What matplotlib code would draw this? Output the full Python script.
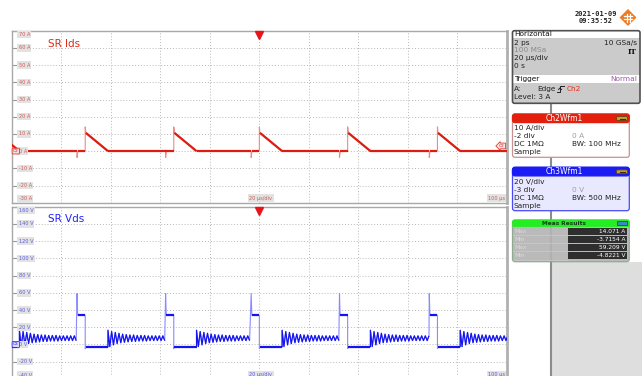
import matplotlib
matplotlib.use('Agg')
import matplotlib.pyplot as plt
import matplotlib.transforms as mtransforms
from matplotlib.patches import FancyBboxPatch, Rectangle, Polygon

# ---------------- data ----------------
time_window_us = [-100, 100]
time_grid_us = [-100, -80, -60, -40, -20, 0, 20, 40, 60, 80, 100]
trigger_time_us = 0.0
trigger_level_A = 3.0

ids_range_A = [-30, 70]
ids_ticks_A = [70, 60, 50, 40, 30, 20, 10, 0, -10, -20, -30]
ids_tick_labels = ['70 A', '60 A', '50 A', '40 A', '30 A', '20 A', '10 A', '0 A', '-10 A', '-20 A', '-30 A']
vds_range_V = [-40, 160]
vds_ticks_V = [160, 140, 120, 100, 80, 60, 40, 20, 0, -20, -40]
vds_tick_labels = ['160 V', '140 V', '120 V', '100 V', '80 V', '60 V', '40 V', '20 V', '0 V', '-20 V', '-40 V']

rise_times_us = [-106.2, -70.4, -34.6, 0.0, 35.7, 72.0]
ids_step_A = 10.6
ids_overshoot_A = 14.07
ids_neg_spike_A = -3.72
ids_ramp_us = 9.2
vds_spike_lead_us = 3.3
vds_spike_V = 59.2
vds_plateau_V = 34.0
vds_undershoot_V = -4.8
vds_on_V = -3.0
vds_ring_half_period_us = 0.74
vds_ring_V = [16.5, -2.5, 15.0, -0.5, 14.0, 1.0, 13.0, 2.0, 12.0, 2.5, 11.5, 3.0,
              11.0, 3.5, 11.0, 3.5, 10.5, 4.0, 10.5, 4.0, 10.5, 4.0, 10.0, 4.5,
              10.0, 4.5, 10.0, 4.5, 10.0, 4.5, 10.0, 4.5, 10.0, 4.5, 10.0, 4.5]

meas_labels = ['Max', 'Min', 'Max', 'Min']
meas_values = ['14.071 A', '-3.7154 A', '59.209 V', '-4.8221 V']

# ---------------- waveform assembly ----------------
def build_ids():
    tl, vl, dark = [], [], []
    prev_end = time_window_us[0] - 40
    for r in rise_times_us:
        s = r - vds_spike_lead_us
        dark.append(([prev_end, s], [0, 0]))
        dark.append(([s + 0.3, r], [0, 0]))
        dark.append(([r + 0.25, r + ids_ramp_us], [ids_step_A, 0]))
        tl += [prev_end, s, s, s + 0.3, r, r, r + 0.25, r + ids_ramp_us]
        vl += [0, 0, ids_neg_spike_A, 0, 0, ids_overshoot_A, ids_step_A, 0]
        prev_end = r + ids_ramp_us
    end = time_window_us[1] + 40
    dark.append(([prev_end, end], [0, 0]))
    tl += [prev_end, end]
    vl += [0, 0]
    return tl, vl, dark


def ring(start, stop):
    ts, vs = [start], [vds_on_V]
    for k, v in enumerate(vds_ring_V):
        t = start + k * vds_ring_half_period_us
        if t >= stop:
            break
        ts.append(t)
        vs.append(v)
    return ts, vs


def build_vds():
    tl, vl, dark = [], [], []
    prev_end = None
    for r in rise_times_us:
        s = r - vds_spike_lead_us
        if prev_end is not None:
            rt, rv = ring(prev_end, s)
            dark.append((rt, rv))
            tl += rt
            vl += rv
        tl += [s, s + 0.25, r, r, r + 0.25, r + ids_ramp_us]
        vl += [vds_spike_V, vds_plateau_V, vds_plateau_V, vds_undershoot_V, vds_on_V, vds_on_V]
        dark.append(([s + 0.25, r], [vds_plateau_V, vds_plateau_V]))
        dark.append(([r + 0.25, r + ids_ramp_us], [vds_on_V, vds_on_V]))
        prev_end = r + ids_ramp_us
    rt, rv = ring(prev_end, time_window_us[1] + 40)
    dark.append((rt, rv))
    tl += rt
    vl += rv
    return tl, vl, dark


# ---------------- figure ----------------
W, H = 642, 376
fig = plt.figure(figsize=(W / 100, H / 100), dpi=100)
fig.patch.set_facecolor('white')


def px_axes(x0, y0, x1, y1):
    return fig.add_axes([x0 / W, 1 - y1 / H, (x1 - x0) / W, (y1 - y0) / H])


ax1 = px_axes(12, 30.7, 506.7, 202.7)
ax2 = px_axes(12, 206.7, 506.7, 378.9)

grid_col = '#b8b8b8'
for ax, rng, ticks in [(ax1, ids_range_A, ids_ticks_A), (ax2, vds_range_V, vds_ticks_V)]:
    ax.set_xlim(*time_window_us)
    ax.set_ylim(*rng)
    ax.set_xticks(time_grid_us)
    ax.set_yticks(ticks)
    ax.grid(True, linestyle=(0, (1, 2)), color=grid_col, linewidth=0.7)
    ax.tick_params(axis='x', length=0, labelbottom=False)
    ax.tick_params(axis='y', direction='in', length=4, color='#999999', width=0.8, labelleft=False)
    for sp in ax.spines.values():
        sp.set_color('#a8a8a8')
        sp.set_linewidth(1.0)
    ax.spines['right'].set_linewidth(2.0)
    ax.spines['right'].set_color('#b0b0b0')

red = '#dc1c10'
red_light = '#f08a84'
blue = '#1414ee'
blue_light = '#8a8aff'

# current trace
tl, vl, dark = build_ids()
ax1.plot(tl, vl, color=red_light, lw=0.8, zorder=3)
for t, v in dark:
    ax1.plot(t, v, color=red, lw=1.6, zorder=4, solid_capstyle='butt')

# voltage trace
tl, vl, dark = build_vds()
ax2.plot(tl, vl, color=blue_light, lw=0.8, zorder=3)
for i, (t, v) in enumerate(dark):
    lw = 0.85 if len(t) > 2 else 1.6
    ax2.plot(t, v, color=blue, lw=lw, zorder=4, solid_capstyle='butt')

# y labels inside
def ylabels(ax, ticks, labels, tcol):
    tr = mtransforms.blended_transform_factory(ax.transAxes, ax.transData)
    lo, hi = ax.get_ylim()
    for y, lab in zip(ticks, labels):
        va = 'center'
        yy = y
        if y == hi:
            va = 'top'
            yy = y - (hi - lo) * 0.008
        elif y == lo:
            va = 'bottom'
            yy = y + (hi - lo) * 0.008
        ax.text(0.0135, yy, lab, transform=tr, fontsize=3.6, color=tcol, ha='left', va=va,
                zorder=6, bbox=dict(boxstyle='square,pad=0.25', fc='#e2e2e2', ec='none'))

ylabels(ax1, ids_ticks_A, ids_tick_labels, '#d05a50')
ylabels(ax2, vds_ticks_V, vds_tick_labels, '#5a5ae0')

for ax, tcol in [(ax1, '#d05a50'), (ax2, '#5a5ae0')]:
    ax.text(0.503, 0.012, '20 µs/div', transform=ax.transAxes, fontsize=3.6, color=tcol,
            ha='center', va='bottom', zorder=6,
            bbox=dict(boxstyle='square,pad=0.25', fc='#e2e2e2', ec='none'))
    ax.text(0.997, 0.012, '100 µs', transform=ax.transAxes, fontsize=3.6, color=tcol,
            ha='right', va='bottom', zorder=6,
            bbox=dict(boxstyle='square,pad=0.25', fc='#e2e2e2', ec='none'))
    # trigger marker
    trm = mtransforms.offset_copy(
        mtransforms.blended_transform_factory(ax.transData, ax.transAxes),
        fig=fig, x=0, y=-2.9, units='points')
    ax.plot([trigger_time_us], [1.0], marker='v', ms=6.0, color='#e8141a', mec='#e8141a',
            transform=trm, clip_on=False, zorder=7)

ax1.text(0.073, 0.925, 'SR Ids', transform=ax1.transAxes, color='#e02818', fontsize=7.5,
         ha='left', va='center')
ax2.text(0.073, 0.93, 'SR Vds', transform=ax2.transAxes, color='#2424f0', fontsize=7.5,
         ha='left', va='center')

# ground markers
tr1 = mtransforms.blended_transform_factory(ax1.transAxes, ax1.transData)
ax1.text(0.002, 0, 'C2', transform=tr1, fontsize=3.2, color=red, ha='left', va='center', zorder=8,
         bbox=dict(boxstyle='round,pad=0.2', fc='#f4dcdc', ec=red, lw=0.5))
ax1.text(0.996, trigger_level_A, 'C2', transform=tr1, fontsize=3.2, color=red, ha='right', va='center',
         zorder=8, bbox=dict(boxstyle='larrow,pad=0.2', fc='#f8e4e4', ec=red, lw=0.5))
tr2 = mtransforms.blended_transform_factory(ax2.transAxes, ax2.transData)
ax2.text(0.002, 0, 'C3', transform=tr2, fontsize=3.2, color=blue, ha='left', va='center', zorder=8,
         bbox=dict(boxstyle='round,pad=0.2', fc='#dcdcf8', ec=blue, lw=0.5))

# ---------------- right-hand info panel (pixel overlay) ----------------
ov = fig.add_axes([0, 0, 1, 1])
ov.set_xlim(0, W)
ov.set_ylim(H, 0)
ov.axis('off')
ov.patch.set_alpha(0)

FS = 5.3
ov.add_patch(Rectangle((552, 262), 90, 114, fc='#dedede', ec='none', zorder=1))
ov.plot([550.7, 550.7], [103, 376], color='#8c8c8c', lw=1.5, zorder=2)

# date / logo
ov.text(596, 13.5, '2021-01-09', fontsize=5.0, family='DejaVu Sans Mono', weight='bold',
        ha='center', va='center', color='#222222')
ov.text(596, 21, '09:35:52', fontsize=5.0, family='DejaVu Sans Mono', weight='bold',
        ha='center', va='center', color='#222222')
cx, cy, r = 628, 17.5, 8.5
ov.add_patch(Polygon([(cx, cy - r), (cx + r, cy), (cx, cy + r), (cx - r, cy)], closed=True,
                     fc='#f07a20', ec='none', zorder=3))
ov.plot([cx - 4, cx + 4], [cy - 1.5, cy - 1.5], color='white', lw=0.9, zorder=4)
ov.plot([cx - 4, cx + 4], [cy + 1.5, cy + 1.5], color='white', lw=0.9, zorder=4)
ov.plot([cx - 1.5, cx - 1.5], [cy - 4, cy + 4], color='white', lw=0.9, zorder=4)
ov.plot([cx + 1.5, cx + 1.5], [cy - 4, cy + 4], color='white', lw=0.9, zorder=4)

# Horizontal box
hx0, hx1, hy0, hy1 = 512.5, 640, 30.7, 103.3
ov.add_patch(Rectangle((hx0, hy0), hx1 - hx0, hy1 - hy0, fc='#cbcbcb', ec='none', zorder=3))
ov.add_patch(Rectangle((hx0, hy0), hx1 - hx0, 7.5, fc='white', ec='none', zorder=3))
ov.add_patch(Rectangle((hx0, 74.5), hx1 - hx0, 8.5, fc='white', ec='none', zorder=3))
ov.add_patch(FancyBboxPatch((hx0, hy0), hx1 - hx0, hy1 - hy0, boxstyle='round,pad=0,rounding_size=2',
                            fc='none', ec='#505050', lw=1.2, zorder=4))
ov.text(514, 34.5, 'Horizontal', fontsize=FS, ha='left', va='center', color='#111111', zorder=5)
ov.text(514, 43, '2 ps', fontsize=FS, ha='left', va='center', color='#222222', zorder=5)
ov.text(637, 43, '10 GSa/s', fontsize=FS, ha='right', va='center', color='#222222', zorder=5)
ov.text(514, 50, '100 MSa', fontsize=FS, ha='left', va='center', color='#8a8a8a', zorder=5)
ov.text(637, 52, 'IT', fontsize=FS, ha='right', va='center', color='#111111', family='DejaVu Serif',
        weight='bold', zorder=5)
ov.text(514, 58, '20 µs/div', fontsize=FS, ha='left', va='center', color='#222222', zorder=5)
ov.text(514, 66, '0 s', fontsize=FS, ha='left', va='center', color='#222222', zorder=5)
ov.text(514, 79, 'Trigger', fontsize=FS, ha='left', va='center', color='#111111', zorder=5)
ov.text(637, 79, 'Normal', fontsize=FS, ha='right', va='center', color='#9a5aa8', zorder=5)
ov.text(514, 89, 'A:', fontsize=FS, ha='left', va='center', color='#222222', zorder=5)
ov.text(537.5, 89, 'Edge', fontsize=FS, ha='left', va='center', color='#222222', zorder=5)
ov.plot([557, 560, 560, 564], [92, 92, 86, 86], color='#222222', lw=0.7, zorder=5)
ov.plot([558.5, 560, 561.5], [89.5, 88, 89.5], color='#222222', lw=0.7, zorder=5)
ov.text(567, 89, 'Ch2', fontsize=FS, ha='left', va='center', color='#e03020', zorder=5)
ov.text(514, 97, 'Level: 3 A', fontsize=FS, ha='left', va='center', color='#222222', zorder=5)


def channel_box(y0, y1, head_col, body_col, edge_col, title, rows):
    x0, x1 = 512.5, 629.3
    ov.add_patch(FancyBboxPatch((x0, y0), x1 - x0, y1 - y0, boxstyle='round,pad=0,rounding_size=2.5',
                                fc=body_col, ec=edge_col, lw=0.9, zorder=3))
    ov.add_patch(FancyBboxPatch((x0, y0), x1 - x0, 8.6, boxstyle='round,pad=0,rounding_size=2.5',
                                fc=head_col, ec=head_col, lw=0.9, zorder=4))
    ov.text(564, y0 + 4.4, title, fontsize=FS + 0.2, ha='center', va='center', color='white', zorder=5)
    ov.add_patch(FancyBboxPatch((616.5, y0 + 2.6), 11, 3.8, boxstyle='round,pad=0,rounding_size=1.2',
                                fc='#c8a030', ec='#5a4a10', lw=0.6, zorder=5))
    ov.plot([619.5, 624.5], [y0 + 4.5, y0 + 4.5], color='#3a3010', lw=0.8, zorder=6)
    for yy, left, right, rcol in rows:
        ov.text(513.5, yy, left, fontsize=FS, ha='left', va='center', color='#222222', zorder=5)
        if right:
            ov.text(572, yy, right, fontsize=FS, ha='left', va='center', color=rcol, zorder=5)


channel_box(114, 157.3, '#e3200e', 'white', '#c89090', 'Ch2Wfm1',
            [(128, '10 A/div', '', ''), (135.8, '-2 div', '0 A', '#a0a0a0'),
             (144, 'DC 1MΩ', 'BW: 100 MHz', '#222222'), (152, 'Sample', '', '')])
channel_box(167.3, 210.7, '#1a1af4', '#e8e8ff', '#4a4af4', 'Ch3Wfm1',
            [(182, '20 V/div', '', ''), (189.5, '-3 div', '0 V', '#a0a0a0'),
             (198, 'DC 1MΩ', 'BW: 500 MHz', '#222222'), (206, 'Sample', '', '')])

# Meas results box
mx0, mx1, my0, my1 = 512.5, 629.3, 220, 261.7
ov.add_patch(FancyBboxPatch((mx0, my0), mx1 - mx0, my1 - my0, boxstyle='round,pad=0,rounding_size=2.5',
                            fc='#b4b4b4', ec='#8aa88a', lw=0.9, alpha=0.92, zorder=3))
ov.add_patch(FancyBboxPatch((mx0, my0), mx1 - mx0, 6.5, boxstyle='round,pad=0,rounding_size=2',
                            fc='#22ee22', ec='#22ee22', lw=0.6, zorder=4))
ov.text(564, my0 + 3.3, 'Meas Results', fontsize=4.2, weight='bold', ha='center', va='center',
        color='#1a3a1a', zorder=5)
ov.add_patch(Rectangle((617, my0 + 1.3), 9.5, 3.8, fc='#3a8ac0', ec='#1a3a60', lw=0.5, zorder=5))
row_centres = [231.5, 239.3, 247.3, 255.6]
for yy, lab, val in zip(row_centres, meas_labels, meas_values):
    ov.add_patch(Rectangle((568, yy - 3.6), 59, 7.2, fc='#2e2e2e', ec='none', zorder=4))
    ov.plot([mx0 + 0.5, 568], [yy + 3.9, yy + 3.9], color='#d0d0d0', lw=0.4, zorder=5)
    ov.text(514.5, yy, lab, fontsize=4.2, ha='left', va='center', color='#dadada', zorder=5)
    ov.text(625.5, yy, val, fontsize=4.2, ha='right', va='center', color='white', zorder=5)

fig.savefig('out.png', dpi=100)
